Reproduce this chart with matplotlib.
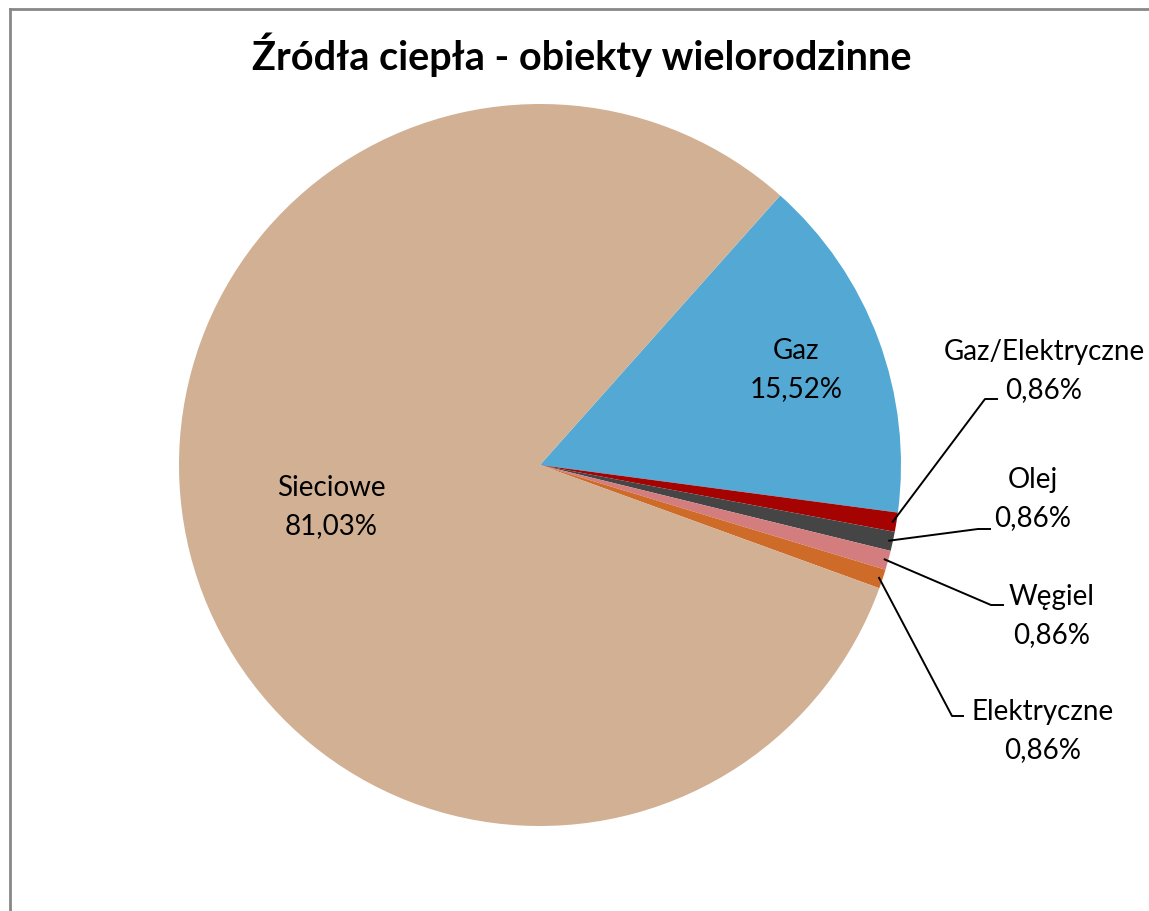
import numpy as np
import matplotlib
matplotlib.use("Agg")
import matplotlib.pyplot as plt

plt.rcParams['font.family'] = ['Lato', 'DejaVu Sans']

# data
labels = ['Gaz', 'Gaz/Elektryczne', 'Olej', 'Węgiel', 'Elektryczne', 'Sieciowe']
values = [15.52, 0.86, 0.86, 0.86, 0.86, 81.03]
colors = ['#53A9D4', '#A50202', '#454545', '#D47D7E', '#CF6B29', '#D1B094']
title = 'Źródła ciepła - obiekty wielorodzinne'

W, H = 1149, 912
cx, cy, R = 540, 466, 361

fig = plt.figure(figsize=(W / 100, H / 100), dpi=100)
ax = fig.add_axes([(cx - R) / W, (H - cy - R) / H, 2 * R / W, 2 * R / H])
wedges, _ = ax.pie(values, startangle=48.3, counterclock=False, colors=colors,
                   radius=1, wedgeprops=dict(linewidth=0))
ax.set_xlim(-1, 1)
ax.set_ylim(-1, 1)
ax.set_aspect('equal')
ax.axis('off')

def px(x, y):
    return (x - cx) / R, (cy - y) / R

# label layout (pixel positions of text centre, elbow point, line end)
inside = {'Gaz': (796, 370), 'Sieciowe': (331, 507)}
outside = {
    'Gaz/Elektryczne': ((1044, 371), (985, 400), (997, 400)),
    'Olej': ((1033, 499), (978, 530), (990, 530)),
    'Węgiel': ((1052, 616), (991, 606), (1003, 606)),
    'Elektryczne': ((1043, 731), (952, 717), (963, 717)),
}

fs = 20
ls = 1.6
for w, lab, v in zip(wedges, labels, values):
    txt = f"{lab}\n{v:.2f}%".replace('.', ',')
    if lab in inside:
        x, y = px(*inside[lab])
        ax.text(x, y, txt, ha='center', va='center', fontsize=fs,
                linespacing=ls)
    else:
        tpos, elbow, end = outside[lab]
        th = np.deg2rad((w.theta1 + w.theta2) / 2)
        sx, sy = 0.99 * np.cos(th), 0.99 * np.sin(th)
        ex, ey = px(*elbow)
        fx, fy = px(*end)
        ax.plot([sx, ex, fx], [sy, ey, fy], color='black', lw=1.4,
                clip_on=False)
        x, y = px(*tpos)
        ax.text(x, y, txt, ha='center', va='center', fontsize=fs,
                linespacing=ls)

fig.text(582 / W, 1 - 55 / H, title, ha='center', va='center',
         fontsize=28.5, fontweight='bold')

# chart border (left and top visible)
fig.add_artist(plt.Line2D([9.5 / W, 9.5 / W], [0, 1 - 9.5 / H],
                          transform=fig.transFigure, color='#888888', lw=2))
fig.add_artist(plt.Line2D([9.5 / W, 1], [1 - 9.5 / H, 1 - 9.5 / H],
                          transform=fig.transFigure, color='#888888', lw=2))

fig.savefig('out.png', dpi=100)
